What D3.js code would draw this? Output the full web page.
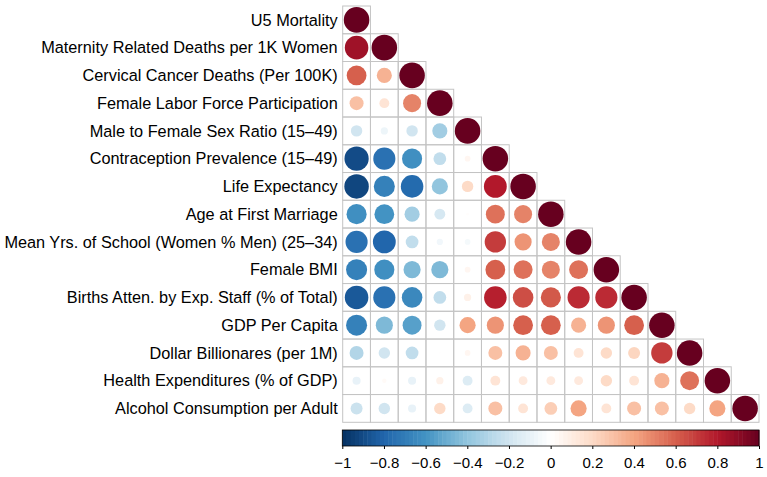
<!DOCTYPE html>
<meta charset="utf-8">
<style>
body { margin: 0; background: #fff; }
text { font-family: "Liberation Sans", Arial, sans-serif; font-size: 16.3px; fill: #000; }
</style>
<svg width="767" height="477"></svg>
<script src="https://d3js.org/d3.v7.min.js"></script>
<script>

var labels = [
  "U5 Mortality",
  "Maternity Related Deaths per 1K Women",
  "Cervical Cancer Deaths (Per 100K)",
  "Female Labor Force Participation",
  "Male to Female Sex Ratio (15\u201349)",
  "Contraception Prevalence (15\u201349)",
  "Life Expectancy",
  "Age at First Marriage",
  "Mean Yrs. of School (Women % Men) (25\u201334)",
  "Female BMI",
  "Births Atten. by Exp. Staff (% of Total)",
  "GDP Per Capita",
  "Dollar Billionares (per 1M)",
  "Health Expenditures (% of GDP)",
  "Alcohol Consumption per Adult"
];

// lower triangle of the correlation matrix, row by row (diagonal included)
var corrRows = [
  [1],
  [0.85, 1],
  [0.6, 0.35, 1],
  [0.3, 0.15, 0.5, 1],
  [-0.2, -0.08, -0.2, -0.35, 1],
  [-0.9, -0.75, -0.62, -0.25, 0.05, 1],
  [-0.92, -0.68, -0.78, -0.4, 0.2, 0.8, 1],
  [-0.62, -0.6, -0.35, -0.18, 0.01, 0.55, 0.5, 1],
  [-0.75, -0.8, -0.25, -0.06, -0.05, 0.7, 0.45, 0.5, 1],
  [-0.68, -0.62, -0.45, -0.45, 0.05, 0.6, 0.55, 0.5, 0.55, 1],
  [-0.85, -0.75, -0.65, -0.25, 0.08, 0.78, 0.65, 0.62, 0.75, 0.75, 1],
  [-0.68, -0.45, -0.55, -0.2, 0.4, 0.45, 0.6, 0.6, 0.35, 0.45, 0.6, 1],
  [-0.3, -0.2, -0.25, 0.005, 0.05, 0.3, 0.35, 0.3, 0.15, 0.2, 0.22, 0.7, 1],
  [-0.1, 0.03, -0.1, 0.08, -0.15, 0.15, 0.12, 0.12, 0.12, 0.2, 0.15, 0.35, 0.55, 1],
  [-0.22, -0.2, -0.1, 0.2, -0.15, 0.3, 0.15, 0.25, 0.4, 0.15, 0.3, 0.3, 0.2, 0.4, 1]
];

var colorStops = ["#053061", "#2166AC", "#4393C3", "#92C5DE", "#D1E5F0", "#FFFFFF",
                  "#FDDBC7", "#F4A582", "#D6604D", "#B2182B", "#67001F"];
var legendTicks = [-1, -0.8, -0.6, -0.4, -0.2, 0, 0.2, 0.4, 0.6, 0.8, 1];

var svg = d3.select("svg");

var gridLeft = 342.7, gridTop = 6, gridSize = 416.3;
var n = labels.length;

var x = d3.scaleBand().domain(d3.range(n)).range([gridLeft, gridLeft + gridSize]);
var y = d3.scaleBand().domain(d3.range(n)).range([gridTop, gridTop + gridSize]);
var cell = x.bandwidth();

var color = d3.scaleLinear()
  .domain(d3.range(colorStops.length).map(function(i) { return -1 + 2 * i / (colorStops.length - 1); }))
  .range(colorStops)
  .interpolate(d3.interpolateRgb);

var radius = d3.scaleSqrt().domain([0, 1]).range([0, cell * 0.46]);

var cells = [];
corrRows.forEach(function(row, i) {
  row.forEach(function(v, j) { cells.push({ i: i, j: j, v: v }); });
});

// grid
svg.append("g")
  .selectAll("rect")
  .data(cells)
  .enter().append("rect")
    .attr("x", function(d) { return x(d.j); })
    .attr("y", function(d) { return y(d.i); })
    .attr("width", cell)
    .attr("height", cell)
    .attr("fill", "none")
    .attr("stroke", "#c4c4c4")
    .attr("stroke-width", 1);

// circles
svg.append("g")
  .selectAll("circle")
  .data(cells)
  .enter().append("circle")
    .attr("cx", function(d) { return x(d.j) + cell / 2; })
    .attr("cy", function(d) { return y(d.i) + cell / 2; })
    .attr("r", function(d) { return radius(Math.abs(d.v)); })
    .attr("fill", function(d) { return color(d.v); });

// row labels
svg.append("g")
  .selectAll("text")
  .data(labels)
  .enter().append("text")
    .attr("x", gridLeft - 5)
    .attr("y", function(d, i) { return y(i) + cell / 2; })
    .attr("dy", "0.35em")
    .attr("text-anchor", "end")
    .text(function(d) { return d; });

// colour legend
var lx = d3.scaleLinear().domain([-1, 1]).range([342.3, 759]);
var ly0 = 430, ly1 = 446;
var nSteps = 100;
var steps = d3.range(nSteps).map(function(k) { return -1 + 2 * k / nSteps; });

var legend = svg.append("g");
legend.selectAll("rect.step")
  .data(steps)
  .enter().append("rect")
    .attr("class", "step")
    .attr("x", function(d) { return lx(d); })
    .attr("y", ly0)
    .attr("width", lx(2 / nSteps) - lx(0) + 0.5)
    .attr("height", ly1 - ly0)
    .attr("fill", function(d) { return color(d + 1 / nSteps); });

legend.append("rect")
  .attr("x", lx(-1))
  .attr("y", ly0)
  .attr("width", lx(1) - lx(-1))
  .attr("height", ly1 - ly0)
  .attr("fill", "none")
  .attr("stroke", "#000")
  .attr("stroke-width", 0.8);

var axis = d3.axisBottom(lx)
  .tickValues(legendTicks)
  .tickSize(3)
  .tickFormat(function(d) { return d3.format("")(d).replace("-", "\u2212"); });

var ag = legend.append("g")
  .attr("transform", "translate(0," + ly1 + ")")
  .call(axis);
ag.select(".domain").remove();
ag.selectAll("line").attr("stroke", "#000");
ag.selectAll("text")
  .attr("y", 11)
  .attr("dy", "0.71em")
  .style("font-size", "15px")
  .style("font-family", "'Liberation Sans', Arial, sans-serif");

</script>
